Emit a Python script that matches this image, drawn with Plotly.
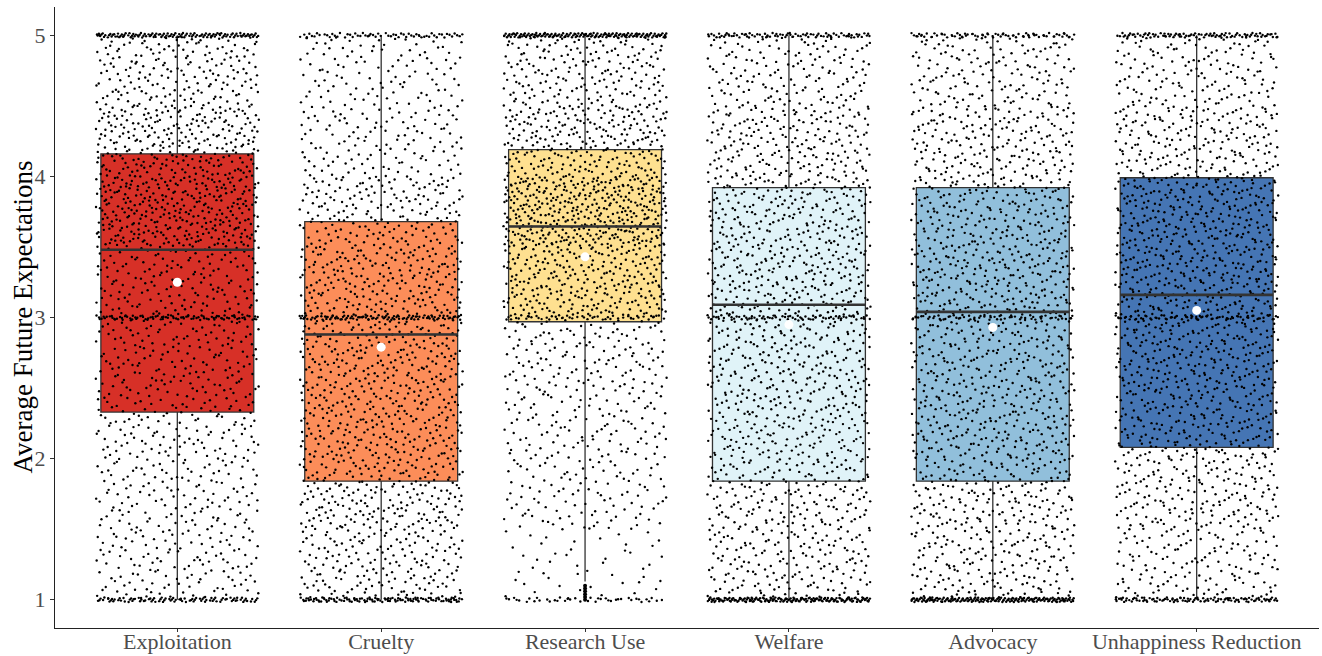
import numpy as np
import plotly.graph_objects as go

# ---------------- data ----------------
categories = ["Exploitation", "Cruelty", "Research Use", "Welfare", "Advocacy",
              "Unhappiness Reduction"]
box_colors = ["#D73027", "#FC8D59", "#FEE090", "#E0F3F8", "#91BFDB", "#4575B4"]

q1 = [2.33, 1.84, 2.97, 1.84, 1.84, 2.08]
medians = [3.48, 2.88, 3.645, 3.09, 3.04, 3.16]
q3 = [4.16, 3.68, 4.19, 3.92, 3.92, 3.99]
lower_whisker = [1.0, 1.0, 1.13, 1.0, 1.0, 1.0]
upper_whisker = [5.0, 5.0, 5.0, 5.0, 5.0, 5.0]
means = [3.25, 2.79, 3.43, 2.95, 2.93, 3.05]

# outliers drawn by the boxplot (Research Use only)
research_outliers = [1.0, 1.02, 1.04, 1.06, 1.08, 1.10]

# estimated number of responses per 0.5-wide band (1-1.5, ..., 4.5-5)
bin_edges = [1.0, 1.5, 2.0, 2.5, 3.0, 3.5, 4.0, 4.5, 5.0]
counts_exploitation = [135, 135, 150, 160, 170, 330, 270, 190]
counts_cruelty = [180, 220, 230, 230, 230, 190, 130, 110]
counts_research = [50, 110, 120, 140, 280, 420, 260, 190]
counts_welfare = [170, 180, 200, 200, 230, 220, 200, 150]
counts_advocacy = [170, 190, 210, 200, 230, 210, 190, 150]
counts_unhappiness = [140, 180, 220, 240, 260, 260, 200, 150]

# estimated number of responses exactly at 1, 3 and 5
spike_levels = [1.0, 3.0, 5.0]
spikes_exploitation = [90, 80, 120]
spikes_cruelty = [110, 90, 60]
spikes_research = [40, 40, 150]
spikes_welfare = [170, 60, 80]
spikes_advocacy = [180, 50, 70]
spikes_unhappiness = [100, 60, 90]

band_counts = [counts_exploitation, counts_cruelty, counts_research,
               counts_welfare, counts_advocacy, counts_unhappiness]
spike_counts = [spikes_exploitation, spikes_cruelty, spikes_research,
                spikes_welfare, spikes_advocacy, spikes_unhappiness]

y_title = "Average Future Expectations"

# ---------------- styling constants ----------------
BOX_WIDTH = 0.75
JITTER_W = 0.40
JITTER_H = 0.016
FONT = "Liberation Serif, Times New Roman, serif"
LINE_COL = "#333333"


# deterministic, evenly spread layout of points (Halton sequence, bases 2 & 3)
def vdc(idx, base):
    idx = np.asarray(idx, dtype=np.int64).copy()
    out = np.zeros(idx.shape, dtype=float)
    f = 1.0 / base
    while np.any(idx > 0):
        out += f * (idx % base)
        idx //= base
        f /= base
    return out


def spread(n, start):
    k = np.arange(n) + start
    return vdc(k, 2), vdc(k, 3)


xs = [i + 1 for i in range(len(categories))]

fig = go.Figure()

# boxes
for i, cat in enumerate(categories):
    fig.add_trace(go.Box(
        x=[xs[i]], q1=[q1[i]], median=[medians[i]], q3=[q3[i]],
        lowerfence=[lower_whisker[i]], upperfence=[upper_whisker[i]],
        width=BOX_WIDTH, whiskerwidth=0,
        fillcolor=box_colors[i],
        line=dict(color=LINE_COL, width=1.3),
        boxpoints=False, showlegend=False, hoverinfo="skip",
    ))

# jittered response points
px, py = [], []
edges = np.array(bin_edges)
for i in range(len(categories)):
    cnt = np.array(band_counts[i], dtype=float)
    total = int(cnt.sum())
    cdf = np.concatenate([[0.0], np.cumsum(cnt) / cnt.sum()])
    u, v = spread(total, 5000 * (i + 1) + 123)
    yv = np.interp(v, cdf, edges)
    px.extend(xs[i] + (u - 0.5) * 2 * JITTER_W)
    py.extend(yv)
    for j, lev in enumerate(spike_levels):
        n = spike_counts[i][j]
        u, v = spread(n, 70000 + 3000 * i + 700 * j + 37)
        px.extend(xs[i] + (u - 0.5) * 2 * JITTER_W)
        py.extend(lev + (v - 0.5) * 2 * JITTER_H)

fig.add_trace(go.Scatter(
    x=px, y=py, mode="markers",
    marker=dict(color="black", size=2.4, line=dict(width=0)),
    showlegend=False, hoverinfo="skip",
))

# boxplot outliers
fig.add_trace(go.Scatter(
    x=[xs[2]] * len(research_outliers), y=research_outliers, mode="markers",
    marker=dict(color="black", size=4), showlegend=False, hoverinfo="skip",
))

# thick median lines (ggplot style)
for i in range(len(categories)):
    fig.add_trace(go.Scatter(
        x=[xs[i] - BOX_WIDTH / 2, xs[i] + BOX_WIDTH / 2],
        y=[medians[i], medians[i]], mode="lines",
        line=dict(color=LINE_COL, width=2.6),
        showlegend=False, hoverinfo="skip",
    ))

# means
fig.add_trace(go.Scatter(
    x=xs, y=means, mode="markers",
    marker=dict(color="white", size=9, line=dict(width=0)),
    showlegend=False, hoverinfo="skip",
))

fig.update_layout(
    width=1322, height=656,
    margin=dict(l=55, r=3, t=7, b=28),
    plot_bgcolor="white", paper_bgcolor="white",
    font=dict(family=FONT),
    xaxis=dict(
        range=[0.4, len(categories) + 0.6],
        tickvals=xs, ticktext=categories,
        showgrid=False, zeroline=False, automargin=False,
        showline=True, linecolor="#222222", linewidth=1.3,
        ticks="outside", ticklen=3, tickcolor="#333333", tickwidth=1,
        ticklabelstandoff=-10,
        tickfont=dict(family=FONT, size=22, color="#4D4D4D"),
    ),
    yaxis=dict(
        range=[0.8, 5.2],
        tickvals=[1, 2, 3, 4, 5],
        showgrid=False, zeroline=False, automargin=False,
        showline=True, linecolor="#222222", linewidth=1.3,
        ticks="outside", ticklen=4, tickcolor="#333333", tickwidth=1,
        tickfont=dict(family=FONT, size=22, color="#4D4D4D"),
    ),
    annotations=[dict(
        text=y_title, textangle=-90, showarrow=False,
        xref="paper", yref="paper", x=0, y=0.5, xshift=-33,
        xanchor="center", yanchor="middle",
        font=dict(family=FONT, size=27, color="black"),
    )],
)

fig.write_html(
    "out.html",
    config={"displayModeBar": False},
    post_script="document.body.style.margin='0';document.body.style.padding='0';",
)
